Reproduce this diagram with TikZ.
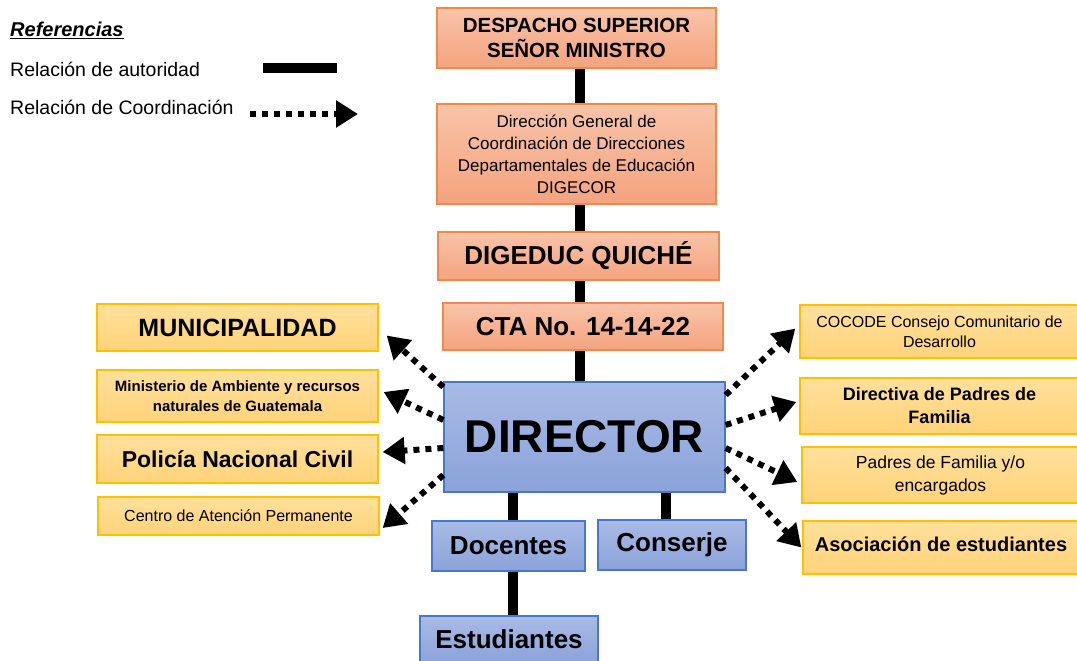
\documentclass[tikz,border=0pt]{standalone}
\usepackage{fontspec}
\setmainfont{Liberation Sans}
\usetikzlibrary{arrows.meta,calc}

\definecolor{naranjaArriba}{HTML}{F9C3A9}
\definecolor{naranjaAbajo}{HTML}{F4A37E}
\definecolor{naranjaBorde}{HTML}{F08A4B}
\definecolor{azulArriba}{HTML}{A9BAE5}
\definecolor{azulAbajo}{HTML}{8BA3DA}
\definecolor{azulBorde}{HTML}{4A78C8}
\definecolor{amarilloArriba}{HTML}{FFE09C}
\definecolor{amarilloAbajo}{HTML}{FFD378}
\definecolor{amarilloBorde}{HTML}{FFC000}

\newcommand{\tam}[1]{\fontsize{#1}{1.2\dimexpr#1pt\relax}\selectfont}

\begin{document}
\begin{tikzpicture}[x=1pt,y=-1pt,
    naranja/.style={draw=naranjaBorde, line width=1.3pt, top color=naranjaArriba, bottom color=naranjaAbajo, inner sep=0pt, align=center},
    azul/.style={draw=azulBorde, line width=1.3pt, top color=azulArriba, bottom color=azulAbajo, inner sep=0pt, align=center},
    amarillo/.style={draw=amarilloBorde, line width=1.3pt, top color=amarilloArriba, bottom color=amarilloAbajo, inner sep=0pt, align=center},
    autoridad/.style={line width=10pt},
    coordinacion/.style={line width=6pt, dash pattern=on 6pt off 6pt, -{Triangle[length=22pt,width=26pt]}}]
    \useasboundingbox (0,0) rectangle (1077,661);
    \fill[white] (0,0) rectangle (1077,661);

    % referencias
    \node[anchor=west, inner sep=0pt, font=\tam{20}\bfseries\itshape] (ref) at (10,30) {\underline{Referencias}};
    \node[anchor=west, inner sep=0pt, font=\tam{19.5}] (lauto) at (10,69) {Relación de autoridad};
    \node[anchor=west, inner sep=0pt, font=\tam{19.5}] (lcoor) at (10,107) {Relación de Coordinación};
    \coordinate (autoA) at (263,68);
    \coordinate (autoB) at (337,68);
    \coordinate (coorA) at (250,114);
    \coordinate (coorB) at (358,114);
    \draw[autoridad] (autoA) -- (autoB);
    \draw[coordinacion] (coorA) -- (coorB);

    % cadena de autoridad
    \node[naranja, minimum width=279pt, minimum height=60pt, font=\tam{20.5}\bfseries] (desp) at (576.5,38) {DESPACHO SUPERIOR\\SEÑOR MINISTRO};
    \node[naranja, minimum width=279pt, minimum height=100pt, font=\fontsize{17}{22}\selectfont] (digecor) at (576.5,154) {Dirección General de\\Coordinación de Direcciones\\Departamentales de Educación\\DIGECOR};
    \node[naranja, minimum width=281pt, minimum height=48pt, font=\tam{26}\bfseries] (digeduc) at (578.5,256) {DIGEDUC QUICHÉ};
    \node[naranja, minimum width=280pt, minimum height=47pt, font=\tam{26}\bfseries] (cta) at (583,326.5) {CTA No. 14-14-22};
    \node[azul, minimum width=281pt, minimum height=110pt, font=\tam{46}\bfseries] (dir) at (584.5,437) {DIRECTOR};
    \node[azul, minimum width=153pt, minimum height=50pt, font=\tam{26}\bfseries] (doc) at (508.5,546) {Docentes};
    \node[azul, minimum width=148pt, minimum height=50pt, font=\tam{26}\bfseries] (cons) at (672,545) {Conserje};
    \node[azul, minimum width=178pt, minimum height=47pt, font=\tam{26}\bfseries] (est) at (509,639.5) {Estudiantes};

    % instituciones de la izquierda
    \node[amarillo, minimum width=281pt, minimum height=47pt, font=\tam{25}\bfseries] (muni) at (237.5,327.5) {MUNICIPALIDAD};
    \node[amarillo, minimum width=281pt, minimum height=52pt, font=\fontsize{15}{20}\selectfont\bfseries] (mamb) at (237.5,396) {Ministerio de Ambiente y recursos\\naturales de Guatemala};
    \node[amarillo, minimum width=281pt, minimum height=48pt, font=\tam{23}\bfseries] (pnc) at (237.5,459) {Policía Nacional Civil};
    \node[amarillo, minimum width=281pt, minimum height=38pt, font=\tam{16}] (cap) at (238.5,516) {Centro de Atención Permanente};

    % organizaciones de la derecha
    \node[amarillo, minimum width=279pt, minimum height=53pt, font=\fontsize{16}{20}\selectfont] (cocode) at (939.5,331.5) {COCODE Consejo Comunitario de\\Desarrollo};
    \node[amarillo, minimum width=279pt, minimum height=56pt, font=\fontsize{18}{23}\selectfont\bfseries] (dpf) at (939.5,406) {Directiva de Padres de\\Familia};
    \node[amarillo, minimum width=277pt, minimum height=56pt, font=\fontsize{17.5}{23}\selectfont] (pf) at (940.5,475) {Padres de Familia y/o\\encargados};
    \node[amarillo, minimum width=276pt, minimum height=53pt, font=\tam{20}\bfseries] (asoc) at (941,547.5) {\raisebox{6pt}{Asociación de estudiantes}};

    % lineas de autoridad
    \coordinate (eje) at (580,0);
    \coordinate (ejedoc) at (513,0);
    \coordinate (ejecon) at (666,0);
    \draw[autoridad] (desp.south -| eje) -- (digecor.north -| eje);
    \draw[autoridad] (digecor.south -| eje) -- (digeduc.north -| eje);
    \draw[autoridad] (digeduc.south -| eje) -- (cta.north -| eje);
    \draw[autoridad] (cta.south -| eje) -- (dir.north -| eje);
    \draw[autoridad] (dir.south -| ejedoc) -- (doc.north -| ejedoc);
    \draw[autoridad] (doc.south -| ejedoc) -- (est.north -| ejedoc);
    \draw[autoridad] (dir.south -| ejecon) -- (cons.north -| ejecon);

    % lineas de coordinacion
    \draw[coordinacion] ($(dir.west)+(0,-50)$) -- ($(muni.east)+(8,8)$);
    \draw[coordinacion] ($(dir.west)+(0,-17)$) -- ($(mamb.east)+(5,-4)$);
    \draw[coordinacion] ($(dir.west)+(0,11)$) -- ($(pnc.east)+(4,-7)$);
    \draw[coordinacion] ($(dir.west)+(0,38)$) -- ($(cap.east)+(3,12)$);
    \draw[coordinacion] ($(dir.east)+(0,-42)$) -- ($(cocode.west)+(-4,-3)$);
    \draw[coordinacion] ($(dir.east)+(0,-12)$) -- ($(dpf.west)+(-3,-4)$);
    \draw[coordinacion] ($(dir.east)+(0,11)$) -- ($(pf.west)+(-4,7)$);
    \draw[coordinacion] ($(dir.east)+(0,31)$) -- ($(asoc.west)+(-1,0)$);
\end{tikzpicture}
\end{document}
